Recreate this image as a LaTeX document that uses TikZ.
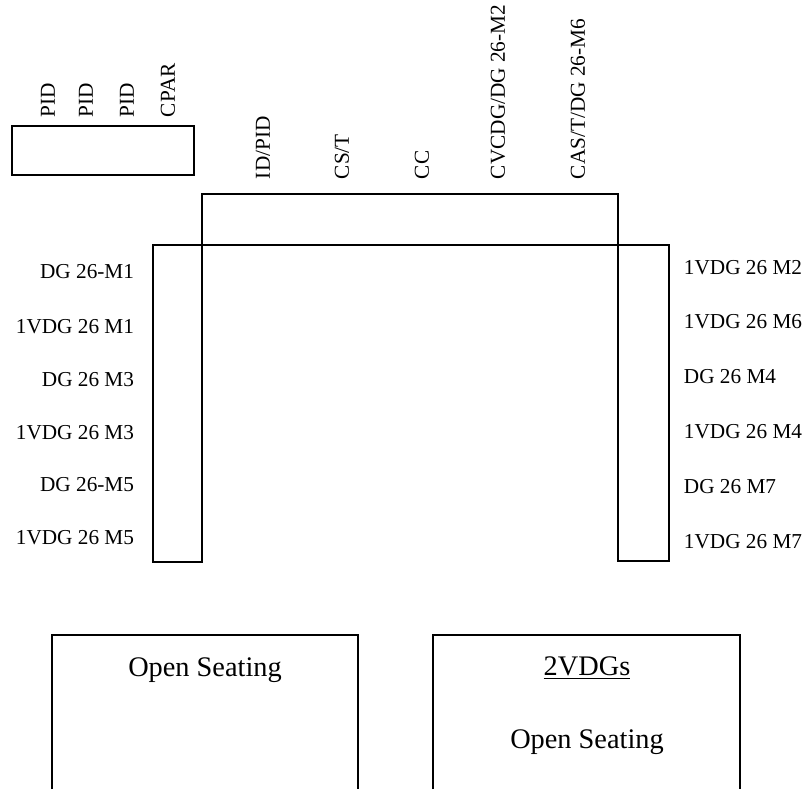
\documentclass[tikz,border=0pt]{standalone}
\usepackage{fontspec}
\setmainfont{Liberation Serif}

\begin{document}
\begin{tikzpicture}[x=0.5645pt, y=-0.5645pt, line width=1.1pt]
\tikzset{
    vlabel/.style = {rotate=90, anchor=west, inner sep=0pt, font=\fontsize{12}{14}\selectfont},
    leftlabel/.style = {anchor=east, inner sep=0pt, font=\fontsize{12}{14}\selectfont},
    rightlabel/.style = {anchor=west, inner sep=0pt, font=\fontsize{12}{14}\selectfont},
    seat/.style = {anchor=base, inner sep=0pt, font=\fontsize{16}{19}\selectfont}
}
    \useasboundingbox (0,0) rectangle (806,789);

    % small table, top left
    \draw (12,126) rectangle (194,175);
    \foreach \x/\t/\n in {48/PID/pidA, 86/PID/pidB, 127/PID/pidC, 168/CPAR/cpar}{
        \node [vlabel] (\n) at (\x, 118) {\t};
    }

    % head table and the two long sides
    \draw (202,194) rectangle (618,245);
    \draw (153,245) rectangle (202,562);
    \draw (618,245) rectangle (669,561);

    \foreach \x/\t/\n in {263/ID\slash PID/idpid, 342/CS\slash T/cst, 422/CC/cc, 498/CVCDG\slash DG 26-M2/cvcdg, 578/CAS\slash T\slash DG 26-M6/cast}{
        \node [vlabel] (\n) at (\x, 180) {\t};
    }

    % names along the left side
    \foreach \y/\t/\n in {272/DG 26-M1/leftA, 327/1VDG 26 M1/leftB, 380/DG 26 M3/leftC, 433/1VDG 26 M3/leftD, 485/DG 26-M5/leftE, 538/1VDG 26 M5/leftF}{
        \node [leftlabel] (\n) at (135, \y) {\t};
    }

    % names along the right side
    \foreach \y/\t/\n in {268/1VDG 26 M2/rightA, 322/1VDG 26 M6/rightB, 377/DG 26 M4/rightC, 432/1VDG 26 M4/rightD, 487/DG 26 M7/rightE, 542/1VDG 26 M7/rightF}{
        \node [rightlabel] (\n) at (683, \y) {\t};
    }

    % open seating areas
    \draw (52,789) |- (358,635) -- (358,789);
    \node [seat] (seatL) at (205, 676) {Open Seating};

    \draw (433,789) |- (740,635) -- (740,789);
    \node [seat] (vdgs) at (587, 675) {\underline{2VDGs}};
    \node [seat] (seatR) at (587, 748) {Open Seating};

\end{tikzpicture}
\end{document}
